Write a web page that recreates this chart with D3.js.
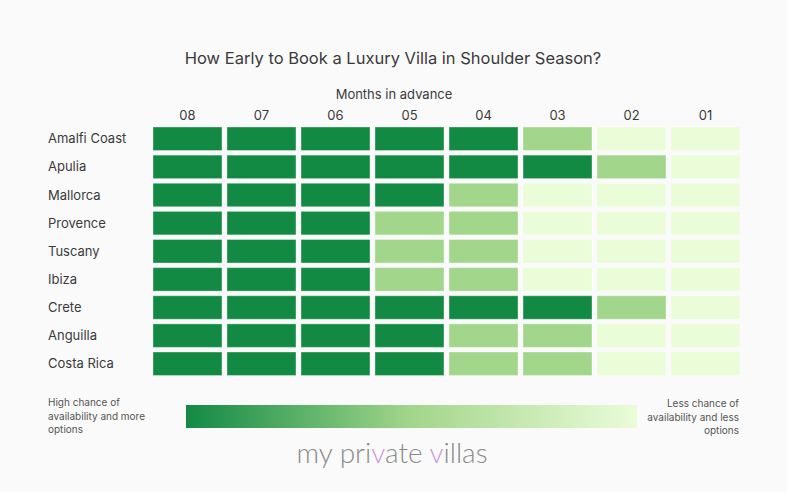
<!DOCTYPE html>
<html>
<head>
<meta charset="UTF-8">
<script src="https://cdn.jsdelivr.net/npm/d3@7"></script>
<style>
	body { margin: 0; background: #fafafa; font-family: Inter, "Noto Sans", sans-serif; }
	svg text { fill: #3a3a3a; }
</style>
</head>
<body>
<svg id="chart" width="787" height="492"></svg>
<script>
// data
const months = ["08", "07", "06", "05", "04", "03", "02", "01"];
const places = ["Amalfi Coast", "Apulia", "Mallorca", "Provence", "Tuscany", "Ibiza", "Crete", "Anguilla", "Costa Rica"];
// 0 = high chance, 1 = medium, 2 = low chance
const levels = [
	[0, 0, 0, 0, 0, 1, 2, 2],
	[0, 0, 0, 0, 0, 0, 1, 2],
	[0, 0, 0, 0, 1, 2, 2, 2],
	[0, 0, 0, 1, 1, 2, 2, 2],
	[0, 0, 0, 1, 1, 2, 2, 2],
	[0, 0, 0, 1, 1, 2, 2, 2],
	[0, 0, 0, 0, 0, 0, 1, 2],
	[0, 0, 0, 0, 1, 1, 2, 2],
	[0, 0, 0, 0, 1, 1, 2, 2]
];
const levelColors = ["#128a44", "#a2d68b", "#eafcd8"];

let svg = d3.select("#chart");

let x = d3.scaleBand().domain(months).range([153, 740]).paddingInner(0.068);
let y = d3.scaleBand().domain(places).range([127, 375.5]).paddingInner(0.165);
let color = d3.scaleOrdinal().domain([0, 1, 2]).range(levelColors);

// title
svg.append("text")
	.attr("x", 393).attr("y", 64)
	.attr("text-anchor", "middle")
	.style("font-size", "16.5px")
	.text("How Early to Book a Luxury Villa in Shoulder Season?");

svg.append("text")
	.attr("x", 394).attr("y", 99)
	.attr("text-anchor", "middle")
	.style("font-size", "13px")
	.text("Months in advance");

// column labels
svg.append("g").selectAll("text")
	.data(months)
	.enter().append("text")
	.attr("x", d => x(d) + x.bandwidth() / 2)
	.attr("y", 120)
	.attr("text-anchor", "middle")
	.style("font-size", "13px")
	.text(d => d);

// row labels
svg.append("g").selectAll("text")
	.data(places)
	.enter().append("text")
	.attr("x", 48)
	.attr("y", d => y(d) + y.bandwidth() / 2)
	.attr("dy", "0.35em")
	.style("font-size", "13px")
	.text(d => d);

// cells
let cells = [];
places.forEach((p, i) => {
	months.forEach((m, j) => {
		cells.push({ place: p, month: m, level: levels[i][j] });
	});
});

svg.append("g").selectAll("rect")
	.data(cells)
	.enter().append("rect")
	.attr("x", d => x(d.month))
	.attr("y", d => y(d.place))
	.attr("width", x.bandwidth())
	.attr("height", y.bandwidth())
	.attr("fill", d => color(d.level))
	.attr("stroke", "rgba(255,255,255,0.35)")
	.attr("stroke-width", 1);

// legend gradient
let defs = svg.append("defs");
let grad = defs.append("linearGradient").attr("id", "legendGrad");
grad.selectAll("stop")
	.data(levelColors)
	.enter().append("stop")
	.attr("offset", (d, i) => (i / (levelColors.length - 1) * 100) + "%")
	.attr("stop-color", d => d);

svg.append("rect")
	.attr("x", 186).attr("y", 405)
	.attr("width", 451).attr("height", 23)
	.attr("fill", "url(#legendGrad)");

let leftText = ["High chance of", "availability and more", "options"];
let rightText = ["Less chance of", "availability and less", "options"];

svg.append("g").selectAll("text")
	.data(leftText)
	.enter().append("text")
	.attr("x", 48)
	.attr("y", (d, i) => 406 + i * 13.5)
	.style("font-size", "10px")
	.style("fill", "#555")
	.text(d => d);

svg.append("g").selectAll("text")
	.data(rightText)
	.enter().append("text")
	.attr("x", 739)
	.attr("y", (d, i) => 407 + i * 13.5)
	.attr("text-anchor", "end")
	.style("font-size", "10px")
	.style("fill", "#555")
	.text(d => d);

// logo
let logo = svg.append("text")
	.attr("x", 392).attr("y", 463)
	.attr("text-anchor", "middle")
	.style("font-size", "28px")
	.style("font-weight", 300)
	.style("font-family", "Lato, Inter, sans-serif");
let parts = [["my pri", "#8a8a8a"], ["v", "#c79bd8"], ["ate ", "#8a8a8a"], ["v", "#c79bd8"], ["illas", "#8a8a8a"]];
parts.forEach(p => {
	logo.append("tspan").style("fill", p[1]).text(p[0]);
});
</script>
</body>
</html>
